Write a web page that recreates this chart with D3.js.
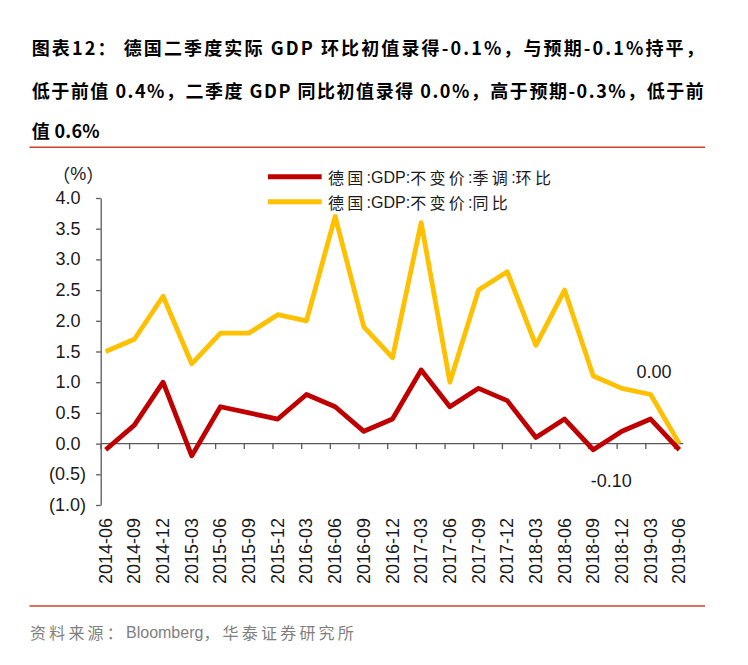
<!DOCTYPE html>
<html><head><meta charset="utf-8">
<script src="https://cdn.jsdelivr.net/npm/d3@7"></script>
<style>body{margin:0;background:#fff} svg{display:block}</style>
</head><body><svg id="c" width="748" height="665"></svg>
<script>
const categories = ["2014-06","2014-09","2014-12","2015-03","2015-06","2015-09","2015-12","2016-03","2016-06","2016-09","2016-12","2017-03","2017-06","2017-09","2017-12","2018-03","2018-06","2018-09","2018-12","2019-03","2019-06"];
const qoqValues = [-0.1,0.3,1.0,-0.2,0.6,0.5,0.4,0.8,0.6,0.2,0.4,1.2,0.6,0.9,0.7,0.1,0.4,-0.1,0.2,0.4,-0.1];
const yoyValues = [1.5,1.7,2.4,1.3,1.8,1.8,2.1,2.0,3.7,1.9,1.4,3.6,1.0,2.5,2.8,1.6,2.5,1.1,0.9,0.8,0.0];
const yTickValues = [-1,-0.5,0,0.5,1,1.5,2,2.5,3,3.5,4];
const seriesNames = ["德国:GDP:不变价:季调:环比","德国:GDP:不变价:同比"];
const seriesColors = ["#C00000","#FFC000"];
const titleLines = ["图表12： 德国二季度实际 GDP 环比初值录得-0.1%，与预期-0.1%持平，","低于前值 0.4%，二季度 GDP 同比初值录得 0.0%，高于预期-0.3%，低于前","值 0.6%"];
const sourceText = "资料来源：Bloomberg，华泰证券研究所";
const yUnit = "（%）";

const svg = d3.select("#c");
const LATIN = "'Liberation Sans', Arial, sans-serif";
const CJK = "'Noto Sans CJK SC', sans-serif";
const AXIS = "#595959";
const TXT = "#1a1a1a";

const x = d3.scalePoint().domain(categories).range([105.7, 679.3]);
const y = d3.scaleLinear().domain([-1, 4]).range([505, 198]);

function mixed(sel, str, o) {
  const splitRe = /([\u2E80-\u9FFF\uFF00-\uFFEF\u3000-\u303F]+)/;
  const testRe = /[\u2E80-\u9FFF\uFF00-\uFFEF\u3000-\u303F]/;
  str.split(splitRe).filter(s => s.length).forEach(seg => {
    const c = testRe.test(seg);
    sel.append("tspan")
      .attr("font-family", c ? CJK : LATIN)
      .attr("font-size", c ? o.cjkSize : o.latinSize)
      .attr("letter-spacing", c ? o.cjkSpacing : 0)
      .text(seg);
  });
}

// separators
[147.3, 606].forEach(yy => svg.append("line")
  .attr("x1", 29.5).attr("x2", 705).attr("y1", yy).attr("y2", yy)
  .attr("stroke", "#C9432B").attr("stroke-width", 1.5));

// title
const titleY = [46.7, 90, 130];
titleLines.forEach((t, i) => {
  const el = svg.append("text")
    .attr("x", 31.7).attr("y", titleY[i])
    .attr("dominant-baseline", "central")
    .attr("font-family", CJK).attr("font-weight", 700).attr("font-size", 18)
    .attr("fill", "#000").text(t);
  el.attr("textLength", i < 2 ? 672 : 68).attr("lengthAdjust", "spacing");
});

// source
const src = svg.append("text").attr("x", 30).attr("y", 631.7)
  .attr("dominant-baseline", "central").attr("fill", "#7f7f7f");
mixed(src, sourceText, {cjkSize: 16, latinSize: 16, cjkSpacing: 3.2});

// y unit
const unit = svg.append("text").attr("x", 78.3).attr("y", 174)
  .attr("text-anchor", "middle").attr("dominant-baseline", "central").attr("fill", TXT);
mixed(unit, yUnit, {cjkSize: 18, latinSize: 18, cjkSpacing: 0});

// y axis
const yAxis = svg.append("g").attr("transform", "translate(100.7,0)")
  .call(d3.axisLeft(y).tickValues(yTickValues).tickSize(4.6).tickSizeOuter(0).tickFormat(""));
yAxis.selectAll("path,line").attr("stroke", AXIS).attr("stroke-width", 1.3);

svg.append("g").selectAll("text").data(yTickValues).join("text")
  .attr("x", d => d < 0 ? 86 : 80.5)
  .attr("y", d => y(d))
  .attr("text-anchor", "end").attr("dominant-baseline", "central")
  .attr("font-family", LATIN).attr("font-size", 18).attr("fill", TXT)
  .text(d => d < 0 ? "(" + Math.abs(d).toFixed(1) + ")" : d.toFixed(1));

// x axis
const xAxis = svg.append("g").attr("transform", `translate(0,${y(0)})`)
  .call(d3.axisBottom(x).tickSize(5.5).tickSizeOuter(0).tickFormat(""));
xAxis.select(".domain").remove();
xAxis.selectAll(".tick").attr("transform", d => `translate(${x(d) - 4.8},0)`);
xAxis.selectAll("line").attr("stroke", AXIS).attr("stroke-width", 1.3);
xAxis.append("line").attr("x1", 100.7).attr("x2", 683.3).attr("y1", 0).attr("y2", 0)
  .attr("stroke", AXIS).attr("stroke-width", 1.3);

svg.append("g").selectAll("text").data(categories).join("text")
  .attr("transform", d => `translate(${x(d)},518) rotate(-90)`)
  .attr("text-anchor", "end").attr("dominant-baseline", "central")
  .attr("font-family", LATIN).attr("font-size", 18).attr("fill", TXT)
  .text(d => d);

// lines
const line = d3.line().x((d, i) => x(categories[i])).y(d => y(d));
[yoyValues, qoqValues].forEach((vals, k) => {
  svg.append("path").datum(vals).attr("d", line)
    .attr("fill", "none").attr("stroke", k === 0 ? seriesColors[1] : seriesColors[0])
    .attr("stroke-width", 4.8).attr("stroke-linejoin", "round");
});

// data labels for last points
const last = categories[categories.length - 1];
svg.append("text").attr("x", x(last) - 25.3).attr("y", y(yoyValues[yoyValues.length - 1]) - 72)
  .attr("text-anchor", "middle").attr("dominant-baseline", "central")
  .attr("font-family", LATIN).attr("font-size", 18).attr("fill", TXT)
  .text(yoyValues[yoyValues.length - 1].toFixed(2));
svg.append("text").attr("x", x(last) - 68).attr("y", y(qoqValues[qoqValues.length - 1]) + 31.4)
  .attr("text-anchor", "middle").attr("dominant-baseline", "central")
  .attr("font-family", LATIN).attr("font-size", 18).attr("fill", TXT)
  .text(qoqValues[qoqValues.length - 1].toFixed(2));

// legend
seriesNames.forEach((name, i) => {
  const ly = 176.7 + i * 25;
  svg.append("line").attr("x1", 268).attr("x2", 321.7).attr("y1", ly).attr("y2", ly)
    .attr("stroke", seriesColors[i]).attr("stroke-width", 5);
  const t = svg.append("text").attr("x", 328).attr("y", ly)
    .attr("dominant-baseline", "central").attr("fill", TXT);
  mixed(t, name, {cjkSize: 16, latinSize: 16, cjkSpacing: 3.3});
});
</script>
</body></html>
